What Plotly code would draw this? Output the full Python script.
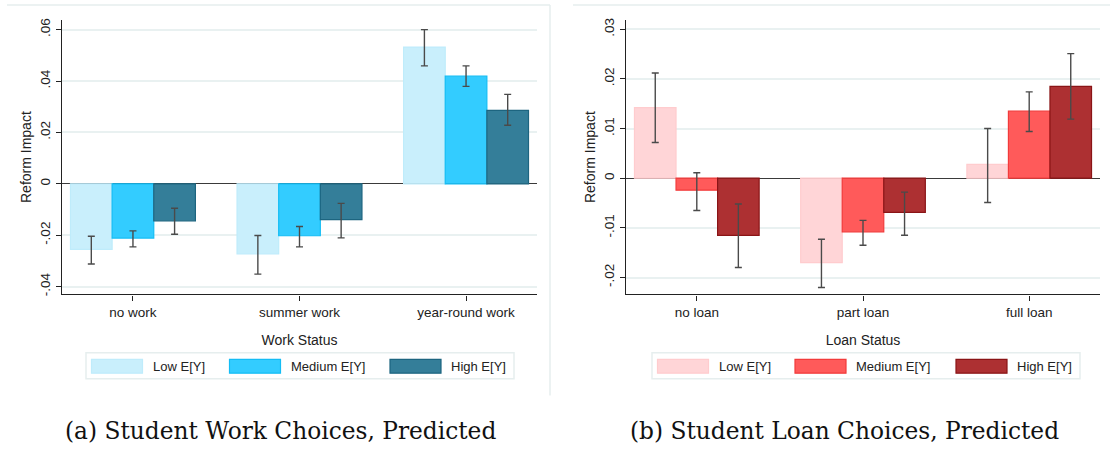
import plotly.graph_objects as go

# ---------------- data ----------------
work_categories = ["no work", "summer work", "year-round work"]
work_low = [-0.0255, -0.0273, 0.0532]
work_low_hi = [-0.0204, -0.0201, 0.0600]
work_low_lo = [-0.0312, -0.0351, 0.0459]
work_med = [-0.0211, -0.0202, 0.0419]
work_med_hi = [-0.0183, -0.0166, 0.0459]
work_med_lo = [-0.0245, -0.0245, 0.0379]
work_high = [-0.0144, -0.0139, 0.0286]
work_high_hi = [-0.0095, -0.0076, 0.0348]
work_high_lo = [-0.0196, -0.0210, 0.0228]

loan_categories = ["no loan", "part loan", "full loan"]
loan_low = [0.0142, -0.0170, 0.0028]
loan_low_hi = [0.0212, -0.0123, 0.0100]
loan_low_lo = [0.0072, -0.0220, -0.0049]
loan_med = [-0.0024, -0.0108, 0.0135]
loan_med_hi = [0.0011, -0.0085, 0.0174]
loan_med_lo = [-0.0065, -0.0135, 0.0094]
loan_high = [-0.0115, -0.0069, 0.0185]
loan_high_hi = [-0.0052, -0.0028, 0.0251]
loan_high_lo = [-0.0180, -0.0115, 0.0119]

series_names = ["Low E[Y]", "Medium E[Y]", "High E[Y]"]

work_ticks = [-0.04, -0.02, 0, 0.02, 0.04, 0.06]
work_ticktext = ["-.04", "-.02", "0", ".02", ".04", ".06"]
loan_ticks = [-0.02, -0.01, 0, 0.01, 0.02, 0.03]
loan_ticktext = ["-.02", "-.01", "0", ".01", ".02", ".03"]

blue_fill = ["#C9EFFC", "#33CCFF", "#347E99"]
blue_line = ["#BFECFB", "#14BDF5", "#1D6580"]
red_fill = ["#FFD5D7", "#FF5A5A", "#AD3032"]
red_line = ["#FFCCCE", "#F23B3B", "#8A1416"]

W, H = 1110, 451
FONT = "Liberation Sans"


def px(x):
    return x / W


def py(y):
    return 1 - y / H


fig = go.Figure()


def add_panel(cats, vals, his, los, fills, lines, xa, ya):
    for name, v, hi, lo, fc, lc in zip(series_names, vals, his, los, fills, lines):
        fig.add_trace(go.Bar(
            x=cats, y=v, name=name, xaxis=xa, yaxis=ya,
            marker=dict(color=fc, line=dict(color=lc, width=1.2)),
            error_y=dict(type="data", symmetric=False,
                         array=[h - a for h, a in zip(hi, v)],
                         arrayminus=[a - l for a, l in zip(v, lo)],
                         color="#4a4a4a", thickness=1.4, width=3.5),
            showlegend=False,
        ))


add_panel(work_categories,
          [work_low, work_med, work_high],
          [work_low_hi, work_med_hi, work_high_hi],
          [work_low_lo, work_med_lo, work_high_lo],
          blue_fill, blue_line, "x", "y")
add_panel(loan_categories,
          [loan_low, loan_med, loan_high],
          [loan_low_hi, loan_med_hi, loan_high_hi],
          [loan_low_lo, loan_med_lo, loan_high_lo],
          red_fill, red_line, "x2", "y2")

ydom = [py(295), py(18)]
axis_common = dict(showline=True, linecolor="#222", linewidth=1.3,
                   ticks="outside", ticklen=5, tickcolor="#222",
                   tickfont=dict(family=FONT, size=13.5, color="#222"))
title_font = dict(family=FONT, size=14, color="#222")

fig.update_layout(
    width=W, height=H,
    margin=dict(l=0, r=0, t=0, b=0),
    paper_bgcolor="white", plot_bgcolor="white",
    barmode="group", bargap=0.25, bargroupgap=0,
    font=dict(family=FONT, size=12, color="#222"),
    xaxis=dict(domain=[px(62), px(537)], range=[-0.426, 2.426], anchor="y",
               type="category", showgrid=False, zeroline=False,
               title=dict(text="Work Status", font=title_font, standoff=16),
               **axis_common),
    yaxis=dict(domain=ydom, range=[-0.0430, 0.0638], anchor="x",
               tickvals=work_ticks, ticktext=work_ticktext, tickangle=-90,
               showgrid=True, gridcolor="#E9F1F1", gridwidth=1.5,
               zeroline=True, zerolinecolor="#3a3a3a", zerolinewidth=1.2,
               title=dict(text="Reform Impact", font=title_font, standoff=3),
               **axis_common),
    xaxis2=dict(domain=[px(626), px(1100)], range=[-0.426, 2.426], anchor="y2",
                type="category", showgrid=False, zeroline=False,
                title=dict(text="Loan Status", font=title_font, standoff=16),
                **axis_common),
    yaxis2=dict(domain=ydom, range=[-0.0234, 0.0319], anchor="x2",
                tickvals=loan_ticks, ticktext=loan_ticktext, tickangle=-90,
                showgrid=True, gridcolor="#E9F1F1", gridwidth=1.5,
                zeroline=True, zerolinecolor="#3a3a3a", zerolinewidth=1.2,
                title=dict(text="Reform Impact", font=title_font, standoff=3),
                **axis_common),
)

shapes = []
annotations = []

# faint panel frames
frame = "#E6EEEE"
shapes.append(dict(type="line", xref="paper", yref="paper", x0=px(7), x1=px(550), y0=py(3), y1=py(3),
                   line=dict(color=frame, width=1.5)))
shapes.append(dict(type="line", xref="paper", yref="paper", x0=px(550), x1=px(550), y0=py(3), y1=py(397),
                   line=dict(color=frame, width=1.5)))
shapes.append(dict(type="line", xref="paper", yref="paper", x0=px(573), x1=px(1110), y0=py(3), y1=py(3),
                   line=dict(color=frame, width=1.5)))


def add_legend(box_x0, box_x1, swatch_x, fills, lines):
    shapes.append(dict(type="rect", xref="paper", yref="paper",
                       x0=px(box_x0), x1=px(box_x1), y0=py(380), y1=py(354),
                       line=dict(color="#E6EEEE", width=1.5), fillcolor="white", layer="below"))
    for sx, name, fc, lc in zip(swatch_x, series_names, fills, lines):
        shapes.append(dict(type="rect", xref="paper", yref="paper",
                           x0=px(sx), x1=px(sx + 51), y0=py(374.5), y1=py(360.5),
                           line=dict(color=lc, width=1.2), fillcolor=fc))
        annotations.append(dict(text=name, xref="paper", yref="paper", x=px(sx + 59), y=py(367.5),
                                xanchor="left", yanchor="middle", showarrow=False,
                                font=dict(family=FONT, size=13, color="#222")))


add_legend(86, 514, [91.5, 229.5, 390], blue_fill, blue_line)
add_legend(652, 1080, [657.5, 795, 956], red_fill, red_line)

# captions
cap_font = dict(family="DejaVu Serif", size=23.3, color="#111")
annotations.append(dict(text="(a) Student Work Choices, Predicted", xref="paper", yref="paper",
                        x=px(280), y=py(432), xanchor="center", yanchor="middle", showarrow=False,
                        font=cap_font))
annotations.append(dict(text="(b) Student Loan Choices, Predicted", xref="paper", yref="paper",
                        x=px(844), y=py(432), xanchor="center", yanchor="middle", showarrow=False,
                        font=cap_font))

fig.update_layout(shapes=shapes, annotations=annotations)

fig.write_html("out.html")
